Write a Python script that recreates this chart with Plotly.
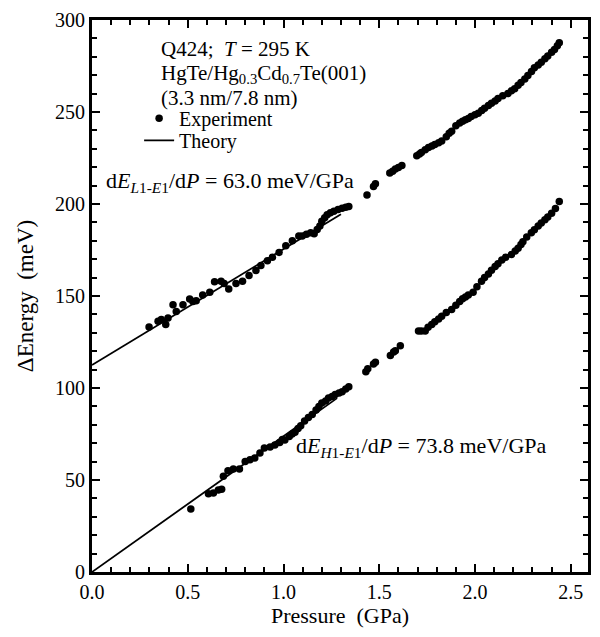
import plotly.graph_objects as go

# Upper branch (L1-E1) experimental data
p_upper = [0.298, 0.345, 0.362, 0.385, 0.397, 0.423, 0.44, 0.475, 0.51, 0.527, 0.544, 0.578, 0.615,
           0.64, 0.674, 0.69, 0.714, 0.752, 0.786, 0.82, 0.856, 0.882, 0.916, 0.942, 0.977, 1.012,
           1.046, 1.08, 1.098, 1.12, 1.142, 1.16, 1.176, 1.19, 1.20, 1.215, 1.228, 1.245, 1.263,
           1.285, 1.306, 1.325, 1.341,
           1.436, 1.47, 1.48,
           1.555, 1.57, 1.584, 1.60, 1.618,
           1.696, 1.71, 1.72, 1.74, 1.757, 1.775, 1.79, 1.81, 1.826, 1.85, 1.865, 1.878, 1.90,
           1.92, 1.935, 1.95, 1.965, 1.98, 2.0, 2.017, 2.035, 2.05, 2.07, 2.086, 2.105, 2.12,
           2.145, 2.172, 2.19, 2.207, 2.225, 2.24, 2.26, 2.276, 2.295, 2.31, 2.33, 2.346, 2.365,
           2.38, 2.40, 2.415, 2.43, 2.44]
e_upper = [133.1, 136.3, 137.2, 134.5, 138, 145.2, 141.6, 145.2, 148.4, 147, 147.4, 150.6, 152,
           157.7, 158, 156.8, 153.8, 156.8, 158, 161.2, 163.9, 166.6, 169.2, 171, 173.7, 177.3,
           180, 182.6, 182.6, 183.5, 184.4, 183.8, 186.2, 188, 190.6, 192.5, 194.2, 195.3, 196,
           197, 197.7, 198.2, 198.6,
           204.9, 209.5, 211,
           216.8, 217.8, 219, 219.8, 220.9,
           226.2, 227.2, 228, 229.5, 230.7, 231.5, 232.4, 233.3, 234.2, 236.5, 238.5, 239.5, 242.5,
           244, 245, 245.8, 246.5, 247.6, 248.5, 249.3, 250.8, 252, 253.5, 254.7, 256, 257.3,
           258.8, 260, 261.5, 262.7, 264.5, 266, 268, 269.8, 272, 274, 275.5, 277, 279,
           280.5, 282.5, 284, 286, 287.6]

# Lower branch (H1-E1) experimental data
p_lower = [0.516, 0.608, 0.634, 0.66, 0.677, 0.686, 0.71, 0.738, 0.77, 0.80, 0.825, 0.85, 0.877,
           0.90, 0.93, 0.955, 0.98, 0.994, 1.007, 1.03, 1.045, 1.06, 1.076, 1.09, 1.11, 1.13,
           1.15, 1.17, 1.185, 1.20, 1.22, 1.235, 1.254, 1.27, 1.29, 1.306, 1.325, 1.341,
           1.43, 1.44, 1.47, 1.48,
           1.558, 1.575, 1.584, 1.61,
           1.705, 1.72, 1.74, 1.755, 1.774, 1.79, 1.81, 1.826, 1.85, 1.878, 1.90, 1.92, 1.935,
           1.95, 1.965, 1.99, 2.01, 2.034, 2.05, 2.07, 2.086, 2.105, 2.12, 2.14, 2.16, 2.19,
           2.21, 2.225, 2.24, 2.25, 2.27, 2.294, 2.31, 2.33, 2.346, 2.365, 2.38, 2.40, 2.42, 2.44]
e_lower = [34.2, 42.5, 43, 44.5, 45, 52, 55, 56, 56, 60, 61, 62, 64.7,
           67.4, 68, 69, 70.4, 72, 71.8, 73.6, 75, 76, 78, 79.5, 82, 84,
           85.6, 88, 90, 91.8, 93, 94.5, 95.4, 96.5, 97.3, 98, 99.5, 100.7,
           108.8, 110.5, 113, 114,
           117.6, 119.5, 120.3, 123,
           131, 131, 131, 133, 134.5, 136, 137.5, 139, 141, 142.6, 145, 147, 148.5,
           149.5, 150.6, 152, 155, 158, 160, 162, 164, 166, 167.5, 169.5, 171, 172.5,
           174.5, 176, 178, 179.5, 182, 184.4, 186, 188, 189.7, 191.5, 193, 195, 197.5, 201.3]

# Theory lines (endpoints)
p_theory_upper = [0.0, 1.30]
e_theory_upper = [112.5, 194.4]
p_theory_lower = [0.0, 1.28]
e_theory_lower = [0.0, 94.5]

x_ticks = [0.0, 0.5, 1.0, 1.5, 2.0, 2.5]
x_ticklabels = ["0.0", "0.5", "1.0", "1.5", "2.0", "2.5"]
y_ticks = [0, 50, 100, 150, 200, 250, 300]

FONT = "Liberation Serif"
fig = go.Figure()

fig.add_trace(go.Scatter(x=p_upper, y=e_upper, mode="markers", name="Experiment",
                         marker=dict(color="black", size=7.5), showlegend=True, legend="legend"))
fig.add_trace(go.Scatter(x=p_lower, y=e_lower, mode="markers", name="Experiment",
                         marker=dict(color="black", size=7.5), showlegend=False))
fig.add_trace(go.Scatter(x=p_theory_upper, y=e_theory_upper, mode="lines", name="Theory",
                         line=dict(color="black", width=1.8), showlegend=True, legend="legend2"))
fig.add_trace(go.Scatter(x=p_theory_lower, y=e_theory_lower, mode="lines", name="Theory",
                         line=dict(color="black", width=1.8), showlegend=False))

axis_common = dict(showline=True, linecolor="black", linewidth=3, mirror="allticks",
                   ticks="inside", ticklen=8, tickwidth=2, tickcolor="black",
                   showgrid=False, zeroline=False,
                   tickfont=dict(family=FONT, size=20, color="black"))

fig.update_xaxes(range=[0, 2.59], tickvals=x_ticks, ticktext=x_ticklabels,
                 minor=dict(dtick=0.1, ticks="inside", ticklen=5, tickwidth=2, tickcolor="black"),
                 title=dict(text="Pressure  (GPa)", font=dict(family=FONT, size=22, color="black"),
                            standoff=5),
                 **axis_common)
fig.update_yaxes(range=[0, 300], tickvals=y_ticks,
                 minor=dict(dtick=10, ticks="inside", ticklen=5, tickwidth=2, tickcolor="black"),
                 title=dict(text="ΔEnergy  (meV)", font=dict(family=FONT, size=23, color="black"),
                            standoff=15),
                 **axis_common)

ann_font = dict(family=FONT, size=21, color="black")
big_font = dict(family=FONT, size=22, color="black")
x_block = 0.35
fig.add_annotation(x=x_block, y=284, xref="x", yref="y", xanchor="left", yanchor="middle",
                   text="Q424;\u00a0 <i>T</i>\u00a0=\u00a0295\u00a0K", showarrow=False, font=ann_font)
fig.add_annotation(x=x_block, y=270.5, xref="x", yref="y", xanchor="left", yanchor="middle",
                   text="HgTe/Hg<sub>0.3</sub>Cd<sub>0.7</sub>Te(001)", showarrow=False, font=ann_font)
fig.add_annotation(x=x_block, y=257.5, xref="x", yref="y", xanchor="left", yanchor="middle",
                   text="(3.3 nm/7.8 nm)", showarrow=False, font=ann_font)
fig.add_annotation(x=0.065, y=212, xref="x", yref="y", xanchor="left", yanchor="middle",
                   text="d<i>E</i><sub><i>L</i>1-<i>E</i>1</sub>/d<i>P</i> = 63.0 meV/GPa",
                   showarrow=False, font=big_font)
fig.add_annotation(x=1.055, y=68, xref="x", yref="y", xanchor="left", yanchor="middle",
                   text="d<i>E</i><sub><i>H</i>1-<i>E</i>1</sub>/d<i>P</i> = 73.8 meV/GPa",
                   showarrow=False, font=big_font)

leg_common = dict(xanchor="left", yanchor="middle", bgcolor="rgba(0,0,0,0)",
                  font=dict(family=FONT, size=20, color="black"), itemwidth=30)
fig.update_layout(
    width=600, height=637,
    margin=dict(l=92, r=10, t=9, b=65),
    plot_bgcolor="white", paper_bgcolor="white",
    font=dict(family=FONT, size=19, color="black"),
    legend=dict(x=0.095, y=0.822, **leg_common),
    legend2=dict(x=0.095, y=0.782, **leg_common),
)

fig.write_html("out.html", post_script="document.body.style.margin='0';",
               config={"displayModeBar": False})
